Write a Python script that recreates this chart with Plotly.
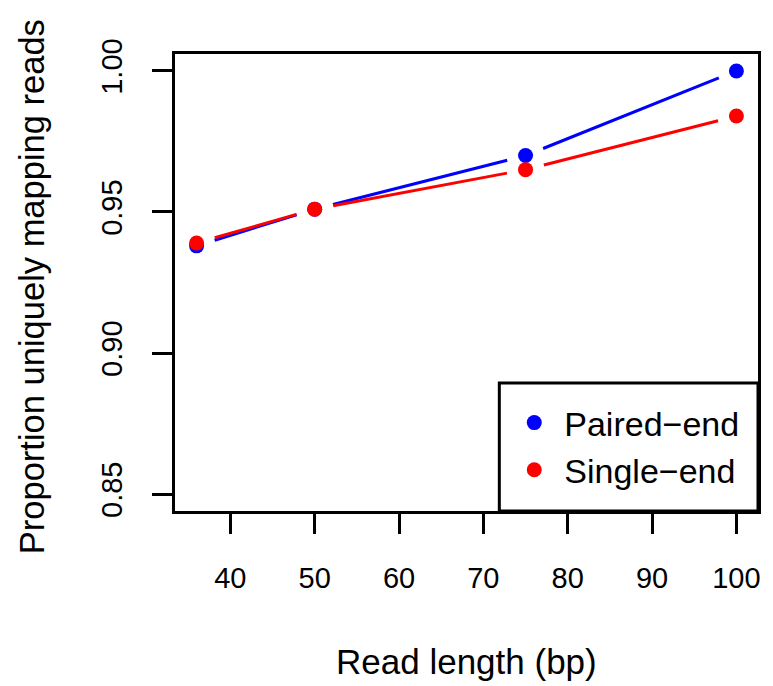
import math
import plotly.graph_objects as go

# Read lengths (bp) and proportion of uniquely mapping reads
read_length = [36, 50, 75, 100]
paired_end = [0.938, 0.951, 0.970, 1.000]
single_end = [0.939, 0.951, 0.965, 0.984]

x_ticks = [40, 50, 60, 70, 80, 90, 100]
y_ticks = [0.85, 0.90, 0.95, 1.00]
y_tick_text = ["0.85", "0.90", "0.95", "1.00"]

series = [
    ("Paired\u2212end", paired_end, "#0000ff"),
    ("Single\u2212end", single_end, "#ff0000"),
]

FONT = "Liberation Sans, Arial, Helvetica, sans-serif"

W, H = 773, 686
M_L, M_R, M_T, M_B = 175, 12, 54, 175
X_RANGE = [33.44, 102.56]
Y_RANGE = [0.844, 1.006]
PLOT_W = W - M_L - M_R
PLOT_H = H - M_T - M_B
SX = PLOT_W / (X_RANGE[1] - X_RANGE[0])   # px per data unit
SY = PLOT_H / (Y_RANGE[1] - Y_RANGE[0])
GAP_PX = 19  # blank space left around each point, as in R's type = "b"


def gapped_segments(xs, ys, gap=GAP_PX):
    """Line segments between consecutive points, shortened at both ends."""
    gx, gy = [], []
    for i in range(len(xs) - 1):
        dx, dy = xs[i + 1] - xs[i], ys[i + 1] - ys[i]
        length = math.hypot(dx * SX, dy * SY)
        f = gap / length
        gx += [xs[i] + dx * f, xs[i + 1] - dx * f, None]
        gy += [ys[i] + dy * f, ys[i + 1] - dy * f, None]
    return gx, gy


fig = go.Figure()

for name, vals, col in series:
    gx, gy = gapped_segments(read_length, vals)
    fig.add_trace(go.Scatter(x=gx, y=gy, mode="lines",
                             line=dict(color=col, width=3),
                             showlegend=False, hoverinfo="skip"))

for name, vals, col in series:
    fig.add_trace(go.Scatter(x=read_length, y=vals, mode="markers", name=name,
                             marker=dict(color=col, size=15, line=dict(width=0))))

axis_common = dict(
    showgrid=False, zeroline=False,
    showline=True, linecolor="black", linewidth=3, mirror=True,
    ticks="outside", ticklen=20, tickwidth=3, tickcolor="black",
    tickfont=dict(family=FONT, size=29, color="black"),
)

fig.update_xaxes(range=X_RANGE, tickvals=x_ticks, ticklabelstandoff=19,
                 **axis_common)
fig.update_yaxes(range=Y_RANGE, tickvals=y_ticks, ticktext=y_tick_text,
                 tickangle=-90, ticklabelstandoff=18, **axis_common)

fig.update_layout(
    width=W, height=H,
    margin=dict(l=M_L, r=M_R, t=M_T, b=M_B),
    plot_bgcolor="white", paper_bgcolor="white",
    font=dict(family=FONT, color="black"),
    showlegend=True,
    legend=dict(
        x=0.5648, y=0.256, xanchor="left", yanchor="top",
        borderwidth=0, bgcolor="rgba(0,0,0,0)",
        font=dict(family=FONT, size=34, color="black"),
        itemwidth=50, tracegroupgap=0,
    ),
    shapes=[
        # legend frame
        dict(type="rect", xref="paper", yref="paper",
             x0=0.5563, x1=1, y0=0, y1=0.2801, layer="above",
             line=dict(color="black", width=3), fillcolor="white"),
    ],
    annotations=[
        dict(text="Read length (bp)", xref="paper", yref="paper",
             x=0.5, y=-0.33, xanchor="center", yanchor="middle",
             showarrow=False, font=dict(family=FONT, size=35, color="black")),
        dict(text="Proportion uniquely mapping reads", xref="paper", yref="paper",
             x=-0.245, y=0.49, xanchor="center", yanchor="middle", textangle=-90,
             showarrow=False, font=dict(family=FONT, size=34.5, color="black")),
    ],
)

fig.write_html("out.html")
